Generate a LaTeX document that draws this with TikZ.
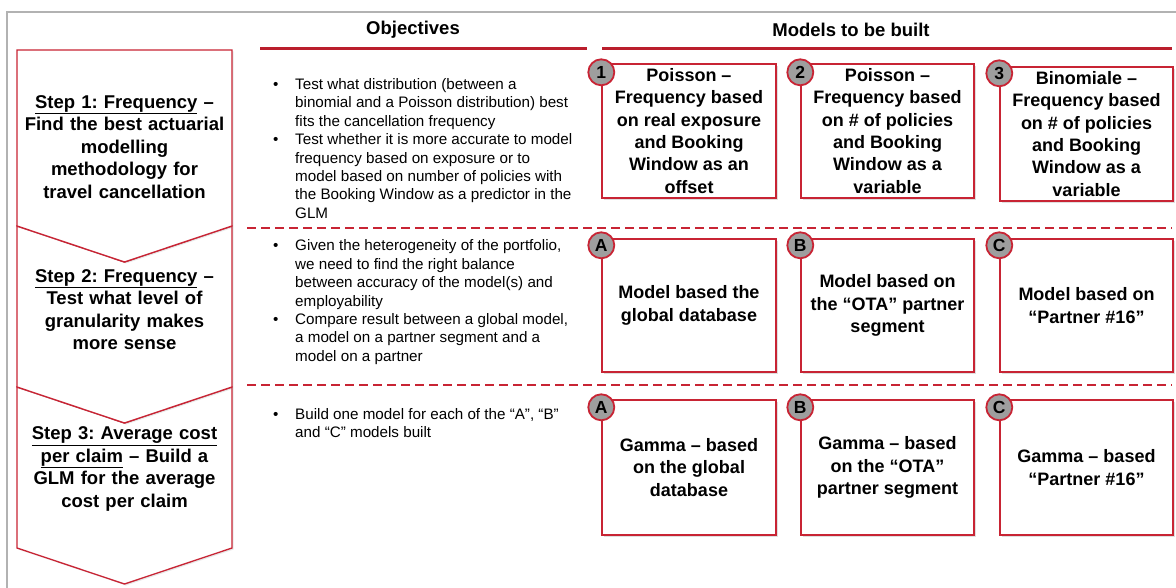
\documentclass[tikz,border=0pt]{standalone}
\usepackage{fontspec}
\setmainfont{Liberation Sans}
\usetikzlibrary{shadows,calc}
\definecolor{framegray}{RGB}{178,178,178}
\definecolor{accent}{RGB}{200,36,52}
\definecolor{rulered}{RGB}{186,30,44}
\definecolor{badgegray}{RGB}{158,158,158}
\frenchspacing
\begin{document}
\begin{tikzpicture}[x=1pt,y=-1pt,
  stepshape/.style={draw=accent, line width=1.3pt, fill=white, line join=miter,
    drop shadow={opacity=0.18, shadow xshift=1.5pt, shadow yshift=-1.5pt}},
  steptext/.style={align=center, inner sep=0pt, text width=215pt,
    font=\fontsize{18.5}{22.5}\selectfont\bfseries},
  heading/.style={inner sep=0pt, font=\fontsize{18.5}{22}\selectfont\bfseries},
  headrule/.style={draw=rulered, line width=3pt},
  splitrule/.style={draw=accent, line width=2.4pt, dash pattern=on 9pt off 5pt},
  bullets/.style={anchor=base west, inner sep=0pt,
    font=\fontsize{15.2}{18.4}\selectfont},
  modelbox/.style={draw=accent, line width=1.4pt, fill=white, align=center,
    inner sep=0pt, font=\fontsize{18}{22.3}\selectfont\bfseries,
    drop shadow={opacity=0.25, shadow xshift=1.8pt, shadow yshift=-1.8pt}},
  badge/.style={circle, draw=accent, line width=1.8pt, fill=badgegray,
    minimum size=26pt, inner sep=0pt, font=\fontsize{17.5}{17.5}\selectfont\bfseries}
]
\useasboundingbox (0,0) rectangle (1176,588);
\fill[white] (0,0) rectangle (1176,588);

% outer frame
\draw[framegray, line width=1.2pt] (7,588) -- (7,12) -- (1176,12);

% step chevrons
\draw[stepshape] (17,387) -- (124.5,423) -- (232,387) -- (232,548) -- (124.5,584) -- (17,548) -- cycle;
\draw[stepshape] (17,226) -- (124.5,262) -- (232,226) -- (232,387) -- (124.5,423) -- (17,387) -- cycle;
\draw[stepshape] (17,50) -- (232,50) -- (232,226) -- (124.5,262) -- (17,226) -- cycle;

\node[steptext] (s1) at (124.5,147) {\underline{Step 1: Frequency} --\\Find the best actuarial\\modelling\\methodology for\\travel cancellation};
\node[steptext] (s2) at (124.5,309.5) {\underline{Step 2: Frequency} --\\Test what level of\\granularity makes\\more sense};
\node[steptext] (s3) at (124.5,469) {\underline{Step 3: Average cost}\\\underline{per claim} -- Build a\\GLM for the average\\cost per claim};

% column headings and rules
\node[heading] (hobj) at (413,30) {Objectives};
\node[heading] (hmod) at (851,30) {Models to be built};
\coordinate (ro1) at (260,49); \coordinate (ro2) at (587,49);
\coordinate (rm1) at (602,49); \coordinate (rm2) at (1172,49);
\draw[headrule] (ro1) -- (ro2);
\draw[headrule] (rm1) -- (rm2);

% dashed separators
\coordinate (d1a) at (247,228); \coordinate (d1b) at (1172,228);
\coordinate (d2a) at (247,385); \coordinate (d2b) at (1172,385);
\draw[splitrule] (d1a) -- (d1b);
\draw[splitrule] (d2a) -- (d2b);

% objectives
\node[bullets] (o1) at (273,89.5) {\begin{tabular}[t]{@{}p{22pt}@{}l@{}}
\textbullet & Test what distribution (between a\\
 & binomial and a Poisson distribution) best\\
 & fits the cancellation frequency\\
\textbullet & Test whether it is more accurate to model\\
 & frequency based on exposure or to\\
 & model based on number of policies with\\
 & the Booking Window as a predictor in the\\
 & GLM
\end{tabular}};
\node[bullets] (o2) at (273,251) {\begin{tabular}[t]{@{}p{22pt}@{}l@{}}
\textbullet & Given the heterogeneity of the portfolio,\\
 & we need to find the right balance\\
 & between accuracy of the model(s) and\\
 & employability\\
\textbullet & Compare result between a global model,\\
 & a model on a partner segment and a\\
 & model on a partner
\end{tabular}};
\node[bullets] (o3) at (273,419) {\begin{tabular}[t]{@{}p{22pt}@{}l@{}}
\textbullet & Build one model for each of the “A”, “B”\\
 & and “C” models built
\end{tabular}};

% models, step 1
\node[modelbox, minimum width=174pt, minimum height=134pt] (m1) at (689,131)
  {Poisson --\\Frequency based\\on real exposure\\and Booking\\Window as an\\offset};
\node[modelbox, minimum width=173pt, minimum height=134pt] (m2) at (887.5,131)
  {Poisson --\\Frequency based\\on \# of policies\\and Booking\\Window as a\\variable};
\node[modelbox, minimum width=173pt, minimum height=134pt] (m3) at (1086.5,134)
  {Binomiale --\\Frequency based\\on \# of policies\\and Booking\\Window as a\\variable};

% models, step 2
\node[modelbox, minimum width=174pt, minimum height=133pt] (g1) at (689,305.5)
  {Model based the\\global database};
\node[modelbox, minimum width=173pt, minimum height=133pt] (g2) at (887.5,305.5)
  {Model based on\\the “OTA” partner\\segment};
\node[modelbox, minimum width=173pt, minimum height=133pt] (g3) at (1086.5,305.5)
  {Model based on\\“Partner \#16”};

% models, step 3
\node[modelbox, minimum width=174pt, minimum height=135pt] (c1) at (689,467.5)
  {Gamma -- based\\on the global\\database};
\node[modelbox, minimum width=173pt, minimum height=135pt] (c2) at (887.5,467.5)
  {Gamma -- based\\on the “OTA”\\partner segment};
\node[modelbox, minimum width=173pt, minimum height=135pt] (c3) at (1086.5,467.5)
  {Gamma -- based\\“Partner \#16”};

% badges
\node[badge] (b1) at ($(m1.north west)+(0,9)$) {1};
\node[badge] (b2) at ($(m2.north west)+(0,9)$) {2};
\node[badge] (b3) at ($(m3.north west)+(0,7)$) {3};
\node[badge] (ga) at ($(g1.north west)+(0,7)$) {A};
\node[badge] (gb) at ($(g2.north west)+(0,7)$) {B};
\node[badge] (gc) at ($(g3.north west)+(0,7)$) {C};
\node[badge] (ca) at ($(c1.north west)+(0,8)$) {A};
\node[badge] (cb) at ($(c2.north west)+(0,8)$) {B};
\node[badge] (cc) at ($(c3.north west)+(0,8)$) {C};
\end{tikzpicture}
\end{document}
